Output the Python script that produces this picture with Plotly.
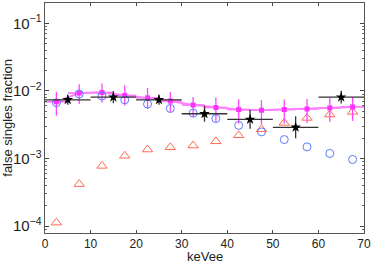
import plotly.graph_objects as go

# x bin centres
x_fine = [2.5, 7.5, 12.5, 17.5, 22.5, 27.5, 32.5, 37.5, 42.5, 47.5, 52.5, 57.5, 62.5, 67.5]
x_coarse = [5, 15, 25, 35, 45, 55, 65]

# red triangles
tri_vals = [1.13e-4, 4.2e-4, 7.8e-4, 1.1e-3, 1.36e-3, 1.47e-3, 1.56e-3, 1.8e-3,
            2.21e-3, 2.72e-3, 3.37e-3, 3.99e-3, 4.48e-3, 4.9e-3]
# blue circles
circ_vals = [6.7e-3, 9.0e-3, 8.4e-3, 7.4e-3, 6.4e-3, 5.5e-3, 4.7e-3, 3.9e-3,
             3.1e-3, 2.48e-3, 1.91e-3, 1.49e-3, 1.19e-3, 9.7e-4]
# magenta squares
sq_vals = [6.9e-3, 9.3e-3, 9.5e-3, 8.6e-3, 7.9e-3, 7.1e-3, 6.2e-3, 5.69e-3,
           5.31e-3, 5.19e-3, 5.31e-3, 5.42e-3, 5.61e-3, 5.81e-3]
sq_err_up = [2.8e-3, 3.3e-3, 3.4e-3, 3.5e-3, 3.2e-3, 2.55e-3, 1.94e-3, 2.3e-3,
             2.2e-3, 2.1e-3, 2.15e-3, 2.2e-3, 2.3e-3, 2.35e-3]
sq_err_dn = [2.6e-3, 2.9e-3, 2.75e-3, 2.5e-3, 2.5e-3, 2.2e-3, 2.1e-3, 2.2e-3,
             2.05e-3, 2.0e-3, 2.0e-3, 2.05e-3, 2.1e-3, 2.2e-3]
# black stars
star_vals = [7.4e-3, 8.1e-3, 7.4e-3, 4.6e-3, 3.8e-3, 2.9e-3, 8.1e-3]
star_err_up = [1.37e-3, 1.84e-3, 1.37e-3, 1.44e-3, 1.45e-3, 1.32e-3, 2.0e-3]
star_err_dn = [1.16e-3, 1.5e-3, 1.16e-3, 1.1e-3, 1.05e-3, 0.91e-3, 1.6e-3]

x_ticks = [0, 10, 20, 30, 40, 50, 60, 70]

fig = go.Figure()

fig.add_trace(go.Scatter(
    x=x_fine, y=tri_vals, mode="markers",
    marker=dict(symbol="triangle-up-open", size=9, color="#ff6a50", line=dict(width=1)),
))
fig.add_trace(go.Scatter(
    x=x_fine, y=sq_vals, mode="lines+markers",
    line=dict(color="#ff80ff", width=2),
    marker=dict(symbol="square", size=5, color="#ff33ff"),
    error_y=dict(type="data", array=sq_err_up, arrayminus=sq_err_dn, symmetric=False,
                 color="#ff44ff", thickness=1.3, width=0),
    error_x=dict(type="constant", value=2.5, color="#ff66ff", thickness=1.5, width=0),
))
fig.add_trace(go.Scatter(
    x=x_fine, y=circ_vals, mode="markers",
    marker=dict(symbol="circle-open", size=8, color="#5b7cff", line=dict(width=1)),
))
fig.add_trace(go.Scatter(
    x=x_coarse, y=star_vals, mode="markers",
    marker=dict(symbol="star", size=8, color="black"),
    error_y=dict(type="data", array=star_err_up, arrayminus=star_err_dn, symmetric=False,
                 color="#333333", thickness=1.3, width=0),
    error_x=dict(type="constant", value=5, color="#333333", thickness=1.3, width=0),
))

font_family = "Liberation Sans, Arial, sans-serif"
tick_font = dict(family=font_family, size=12, color="#222222")
title_font = dict(family=font_family, size=13, color="#222222")

fig.update_layout(
    width=374, height=264,
    margin=dict(l=45, r=10, t=3, b=31),
    paper_bgcolor="white", plot_bgcolor="white",
    showlegend=False,
    font=tick_font,
    annotations=[
        dict(text="keVee", xref="paper", yref="paper", x=0.5, y=-0.1,
             xanchor="center", yanchor="middle", showarrow=False, font=title_font),
        dict(text="false singles fraction", xref="paper", yref="paper", x=-0.12, y=0.5,
             xanchor="center", yanchor="middle", showarrow=False, textangle=-90,
             font=title_font),
    ],
)
fig.update_xaxes(
    range=[0, 70], tickvals=x_ticks, ticktext=[str(v) for v in x_ticks],
    ticks="inside", ticklen=3, tickcolor="#444444", tickfont=tick_font,
    ticklabeloverflow="allow",
    showline=True, linecolor="#555555", linewidth=1, mirror="ticks",
    showgrid=False, zeroline=False,
)
fig.update_yaxes(
    type="log", range=[-4.1, -0.7], dtick=1, exponentformat="power", showexponent="all",
    ticks="inside", ticklen=4, tickcolor="#444444", tickfont=tick_font,
    ticklabeloverflow="allow",
    minor=dict(ticks="inside", ticklen=2, tickcolor="#666666", showgrid=False),
    showline=True, linecolor="#555555", linewidth=1, mirror="ticks",
    showgrid=False, zeroline=False,
)

fig.write_html(
    "out.html",
    config={"displayModeBar": False},
    post_script="document.body.style.margin='0';document.body.style.padding='0';"
                "document.body.style.overflow='hidden';",
)
